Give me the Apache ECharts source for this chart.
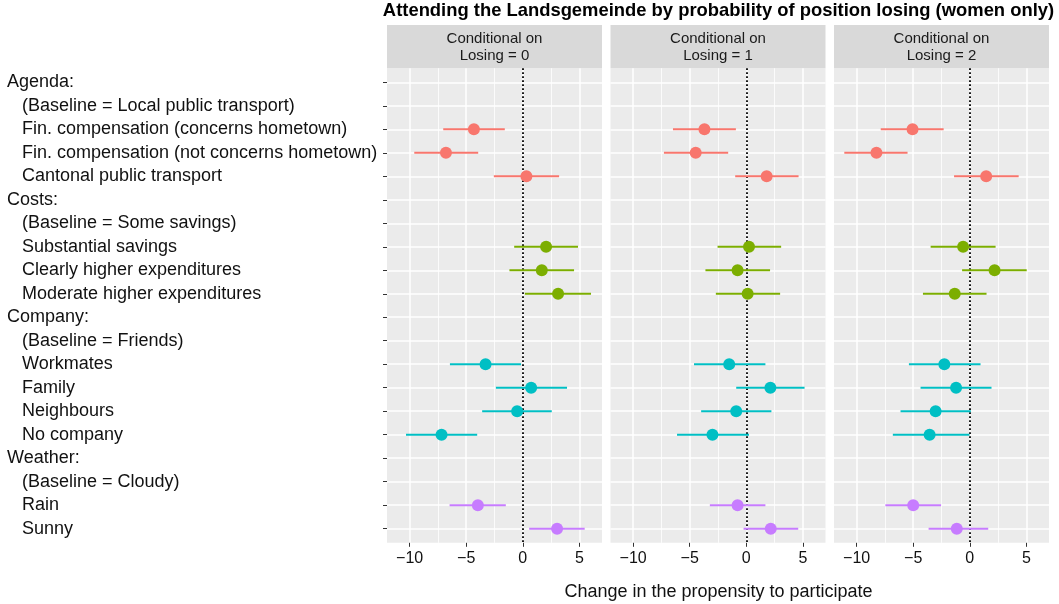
<!DOCTYPE html>
<html><head><meta charset="utf-8">
<script src="https://cdn.jsdelivr.net/npm/echarts@6/dist/echarts.min.js"></script>
<style>html,body{margin:0;padding:0;background:#fff}#c{width:1059px;height:604px}</style>
</head><body><div id="c"></div><script>
// ---- data ----
const rowLabels = [
  'Agenda:', '(Baseline = Local public transport)', 'Fin. compensation (concerns hometown)',
  'Fin. compensation (not concerns hometown)', 'Cantonal public transport',
  'Costs:', '(Baseline = Some savings)', 'Substantial savings', 'Clearly higher expenditures',
  'Moderate higher expenditures',
  'Company:', '(Baseline = Friends)', 'Workmates', 'Family', 'Neighbours', 'No company',
  'Weather:', '(Baseline = Cloudy)', 'Rain', 'Sunny'
];
const headerRows = [0, 5, 10, 16];
const itemRows = [2, 3, 4, 7, 8, 9, 12, 13, 14, 15, 18, 19];
const itemGroup = [0, 0, 0, 1, 1, 1, 2, 2, 2, 2, 3, 3];
const groupColors = ['#F8766D', '#7CAE00', '#00BFC4', '#C77CFF'];
const panelTitles = ['Conditional on\nLosing = 0', 'Conditional on\nLosing = 1', 'Conditional on\nLosing = 2'];

const est0 = [-4.32, -6.79, 0.32, 2.06, 1.68, 3.12, -3.29, 0.74, -0.50, -7.18, -3.97, 3.03];
const lo0  = [-7.03, -9.59, -2.56, -0.76, -1.18, 0.18, -6.44, -2.38, -3.59, -10.32, -6.47, 0.56];
const hi0  = [-1.59, -3.94, 3.21, 4.88, 4.53, 6.03, -0.15, 3.91, 2.56, -4.03, -1.50, 5.47];

const est1 = [-3.70, -4.47, 1.80, 0.24, -0.77, 0.12, -1.51, 2.13, -0.89, -2.99, -0.77, 2.16];
const lo1  = [-6.48, -7.28, -0.98, -2.54, -3.61, -2.69, -4.62, -0.89, -3.99, -6.12, -3.22, -0.24];
const hi1  = [-0.92, -1.60, 4.62, 3.08, 2.10, 2.99, 1.69, 5.15, 2.22, 0.24, 1.69, 4.59];

const est2 = [-5.06, -8.25, 1.45, -0.59, 2.19, -1.33, -2.25, -1.21, -3.02, -3.55, -5.00, -1.15];
const lo2  = [-7.87, -11.09, -1.39, -3.46, -0.68, -4.14, -5.38, -4.35, -6.12, -6.80, -7.46, -3.64];
const hi2  = [-2.31, -5.50, 4.32, 2.28, 5.03, 1.48, 0.95, 1.92, 0.09, -0.03, -2.54, 1.63];

const xTicks = [-10, -5, 0, 5];
const xMinorTicks = [-7.5, -2.5, 2.5];
const xMin = -12, xMax = 7;

const titleText = 'Attending the Landsgemeinde by probability of position losing (women only)';
const xTitle = 'Change in the propensity to participate';

// ---- layout / build ----
const FONT = "'Liberation Sans', Arial, Helvetica, sans-serif";
const panels = [
  {est: est0, lo: lo0, hi: hi0},
  {est: est1, lo: lo1, hi: hi1},
  {est: est2, lo: lo2, hi: hi2}
];
const panelLeft = [387, 610.5, 834];
const panelWidth = 215;
const panelTop = 68.2;
const panelHeight = 474.6;
const rowIdx = rowLabels.map((_, i) => i);

const grids = [], xAxes = [], yAxes = [], series = [], graphics = [];
panels.forEach((p, k) => {
  grids.push({left: panelLeft[k], top: panelTop, width: panelWidth, height: panelHeight,
    show: true, backgroundColor: '#EBEBEB', borderWidth: 0, containLabel: false,
    outerBoundsMode: 'none'});
  xAxes.push({
    type: 'value', gridIndex: k, min: xMin, max: xMax, position: 'bottom',
    axisLine: {show: false, onZero: false},
    axisTick: {show: true, customValues: xTicks, length: 4, lineStyle: {color: '#333', width: 1}},
    axisLabel: {show: true, customValues: xTicks, margin: 8, fontSize: 16, color: '#111', fontFamily: FONT,
      formatter: v => String(v).replace('-', '\u2212')},
    splitLine: {show: true, lineStyle: {color: '#fff', width: 1.5}}
  });
  xAxes.push({
    type: 'value', gridIndex: k, min: xMin, max: xMax, position: 'top',
    axisLine: {show: false, onZero: false}, axisLabel: {show: false},
    axisTick: {show: false, customValues: xMinorTicks},
    splitLine: {show: true, lineStyle: {color: '#fff', width: 0.8}}
  });
  yAxes.push({
    type: 'value', gridIndex: k, inverse: true, min: -0.6, max: 19.6, position: 'left',
    axisLine: {show: false, onZero: false},
    axisTick: {show: k === 0, customValues: rowIdx, length: 4, lineStyle: {color: '#333', width: 1}},
    axisLabel: {show: k === 0, customValues: rowIdx, align: 'left', margin: 380,
      fontSize: 18, color: '#111', fontFamily: FONT,
      formatter: v => headerRows.indexOf(v) >= 0 ? '{h|' + rowLabels[v] + '}' : '{i|' + rowLabels[v] + '}',
      rich: {
        h: {fontSize: 18, color: '#111', fontFamily: FONT},
        i: {fontSize: 18, color: '#111', fontFamily: FONT, padding: [0, 0, 0, 15]}
      }},
    splitLine: {show: true, lineStyle: {color: '#fff', width: 1.5}}
  });
  const barData = itemRows.map((r, j) => [p.lo[j], p.hi[j], r, itemGroup[j]]);
  const ptData = itemRows.map((r, j) => [p.est[j], r, itemGroup[j]]);
  series.push({
    type: 'custom', xAxisIndex: 2 * k, yAxisIndex: k, z: 3,
    dimensions: ['lo', 'hi', 'row', 'g'],
    encode: {x: [0, 1], y: 2},
    data: barData,
    renderItem: (params, api) => {
      const a = api.coord([api.value(0), api.value(2)]);
      const b = api.coord([api.value(1), api.value(2)]);
      return {type: 'line', shape: {x1: a[0], y1: a[1], x2: b[0], y2: b[1]},
        style: {stroke: groupColors[api.value(3)], lineWidth: 2}};
    }
  });
  series.push({
    type: 'scatter', xAxisIndex: 2 * k, yAxisIndex: k, z: 4,
    symbol: 'circle', symbolSize: 12,
    data: ptData,
    itemStyle: {opacity: 1, color: params => groupColors[params.value[2]]},
    markLine: {
      silent: true, symbol: 'none', label: {show: false},
      lineStyle: {color: '#000', type: [1.8, 2.2], width: 1.8},
      data: [{xAxis: 0}], z: 2
    }
  });
  graphics.push({
    type: 'rect', shape: {x: panelLeft[k], y: 25, width: panelWidth, height: panelTop - 25},
    style: {fill: '#D9D9D9'}, silent: true
  });
  graphics.push({
    type: 'text', x: panelLeft[k] + panelWidth / 2, y: 47.5,
    style: {text: panelTitles[k], fill: '#1A1A1A', font: '15px ' + FONT, textAlign: 'center',
      textVerticalAlign: 'middle', lineHeight: 17}, silent: true
  });
});
graphics.push({
  type: 'text', x: 718.5, y: 592,
  style: {text: xTitle, fill: '#111', font: '18px ' + FONT, textAlign: 'center',
    textVerticalAlign: 'middle'}, silent: true
});

const chart = echarts.init(document.getElementById('c'), null, {renderer: 'canvas'});
chart.setOption({
  animation: false,
  backgroundColor: '#fff',
  title: {text: titleText, left: 718.5, top: 2, textAlign: 'center', padding: 0,
    textStyle: {fontSize: 18.4, fontWeight: 'bold', color: '#000', fontFamily: FONT}},
  grid: grids, xAxis: xAxes, yAxis: yAxes, series: series, graphic: graphics
});
</script></body></html>
